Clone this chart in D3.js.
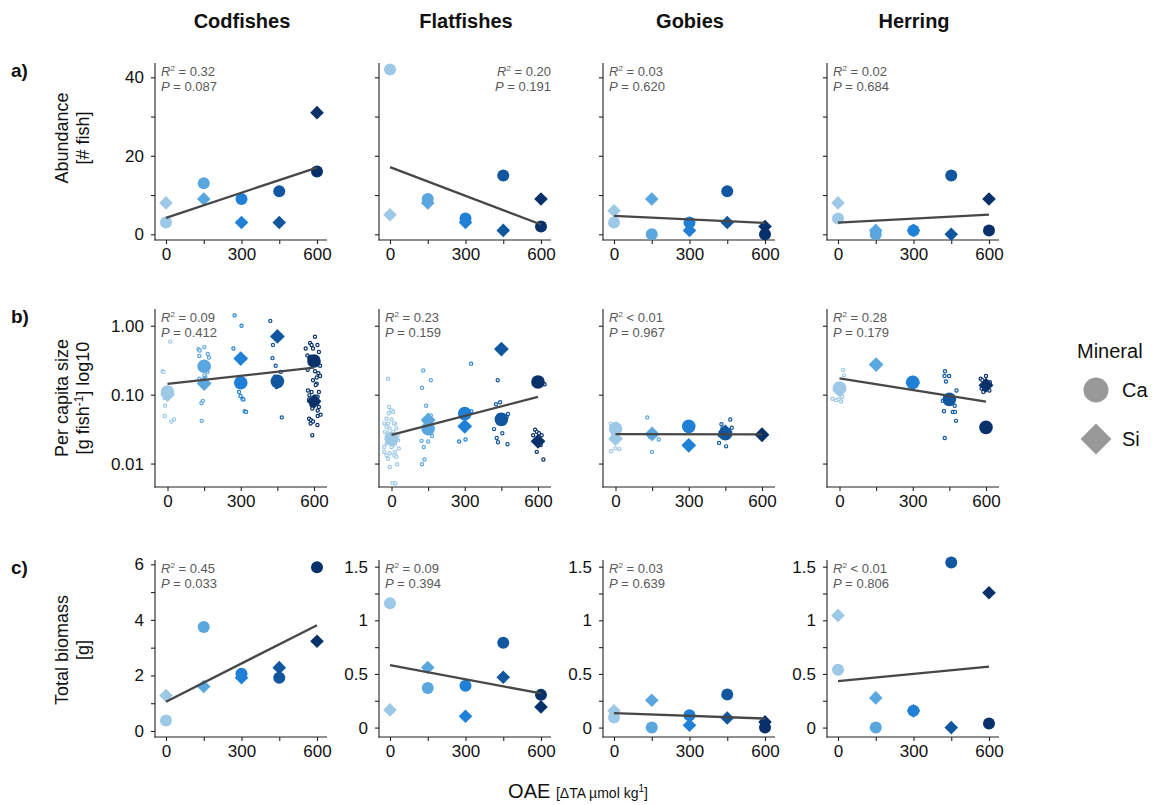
<!DOCTYPE html>
<html>
<head>
<meta charset="utf-8">
<script src="https://cdn.jsdelivr.net/npm/d3@7"></script>
<style>
  body { margin: 0; background: #fff; }
  text { font-family: "Liberation Sans", Arial, sans-serif; }
</style>
</head>
<body>
<script>
// Chart data
var species = ["Codfishes", "Flatfishes", "Gobies", "Herring"];
var levels = [0, 150, 300, 450, 600];
var levelColors = ["#9dc9e7", "#5aa6de", "#1f80d6", "#1157a0", "#08306b"];
var minerals = ["Ca", "Si"];

// a) abundance [# fish], one value per level
var abundanceCa = [[3, 13, 9, 11, 16], [42, 9, 4, 15, 2], [3, 0, 3, 11, 0], [4, 0, 1, 15, 1]];
var abundanceSi = [[8, 9, 3, 3, 31], [5, 8, 3, 1, 9], [6, 9, 1, 3, 2], [8, 1, 1, 0, 9]];

// b) mean per capita size [g], null = no fish caught
var sizeCa = [[0.109, 0.258, 0.149, 0.156, 0.308], [0.023, 0.032, 0.053, 0.0438, 0.153],
              [0.032, null, 0.0347, 0.0271, null], [0.125, null, 0.151, 0.0855, 0.0335]];
var sizeSi = [[0.100, 0.145, 0.334, 0.70, 0.080], [0.0224, 0.043, 0.0347, 0.458, 0.021],
              [0.023, 0.0269, 0.0184, 0.0287, 0.0262], [0.117, 0.273, 0.148, null, 0.137]];

// b) single fish: [level, jitter, log10 size]
var fishCod = [
  [0,11,-0.23],[0,-20,-0.66],[0,-16,-0.67],[0,-12,-1.05],[0,-10,-1.16],[0,-11,-1.31],[0,15,-1.39],[0,27,-1.36],[0,-7,-0.96],[0,7,-0.91],[0,0,-1.0],
  [150,-23,-0.34],[150,-18,-0.36],[150,1,-0.31],[150,-20,-0.44],[150,15,-0.41],[150,20,-0.46],[150,5,-0.74],[150,-1,-0.78],[150,-11,-1.12],[150,-5,-1.09],[150,-10,-1.38],
  [150,-7,-0.59],[150,7,-0.55],[150,-14,-0.62],[150,10,-0.81],[150,-10,-0.85],[150,1,-0.72],[150,14,-0.67],[150,-20,-0.77],[150,4,-0.89],[150,-4,-0.64],[150,18,-0.60],
  [300,-25,0.15],[300,3,0.0],[300,-30,-0.33],[300,-7,-0.96],[300,-1,-1.02],[300,7,-1.06],[300,11,-1.07],[300,16,-1.24],[300,22,-1.25],[300,0,-0.48],[300,-7,-0.82],[300,10,-0.79],
  [450,-29,0.07],[450,-18,-0.28],[450,-20,-0.47],[450,-7,-0.58],[450,18,-1.33],[450,14,-0.67],[450,0,-0.16],[450,-7,-0.8],[450,7,-0.82],[450,3,-0.86],[450,-10,-0.74],[450,10,-0.14],[450,-3,-0.89],[450,4,-0.78],
  [600,4,-0.16],[600,-16,-0.25],[600,-10,-0.28],[600,14,-0.28],[600,-34,-0.33],[600,-4,-0.33],[600,20,-0.38],[600,-27,-0.43],[600,-19,-0.47],[600,15,-0.52],[600,25,-0.58],[600,18,-0.69],
  [600,25,-0.73],[600,11,-0.75],[600,-4,-0.79],[600,11,-0.84],[600,7,-0.86],[600,20,-0.96],[600,-25,-0.94],[600,-10,-0.96],[600,-19,-1.01],[600,15,-1.03],[600,-20,-1.07],[600,7,-1.1],
  [600,-10,-1.15],[600,20,-1.18],[600,15,-1.23],[600,27,-1.29],[600,15,-1.31],[600,-20,-1.35],[600,-12,-1.37],[600,-4,-1.39],[600,-14,-1.42],[600,14,-1.44],[600,-7,-1.59],[600,-26,-0.64],
  [600,0,-0.51],[600,-10,-0.55],[600,10,-0.48],[600,-14,-0.45],[600,7,-0.57],[600,-3,-1.08],[600,7,-1.03],[600,-10,-1.13],[600,14,-1.12],[600,-7,-1.2],[600,4,-0.66]
];
var fishFlat = [
  [0,-14,-0.77],[0,-10,-1.18],[0,0,-1.23],[0,7,-1.25],[0,-11,-1.27],[0,-20,-1.35],[0,0,-1.36],[0,14,-1.42],[0,-30,-1.42],[0,-14,-1.42],[0,10,-1.42],[0,-20,-1.47],
  [0,-7,-1.49],[0,20,-1.49],[0,-27,-1.54],[0,-7,-1.59],[0,14,-1.64],[0,27,-1.66],[0,-20,-1.71],[0,7,-1.73],[0,30,-1.78],[0,-30,-1.83],[0,-7,-1.85],[0,11,-1.88],
  [0,-20,-1.88],[0,20,-1.90],[0,-14,-1.93],[0,-7,-2.05],[0,23,-2.01],[0,3,-2.28],[0,16,-2.29],[0,-14,-1.69],[0,0,-1.76],[0,-30,-1.76],[0,14,-1.83],[0,-20,-1.61],
  [0,7,-1.54],[0,25,-1.59],[0,0,-1.64],[0,-7,-1.61],[0,7,-1.66],[0,-3,-1.69],[0,3,-1.59],[0,-11,-1.65],[0,11,-1.63],[0,-16,-1.56],[0,14,-1.71],
  [150,-20,-0.65],[150,-25,-0.90],[150,11,-0.79],[150,-8,-1.16],[150,-27,-1.67],[150,0,-1.68],[150,-18,-1.76],[150,-15,-1.94],[150,-25,-2.01],[150,16,-1.60],[150,7,-1.47],
  [150,-14,-1.39],[150,16,-1.37],[150,-3,-1.54],[150,11,-1.30],[150,-7,-1.49],[150,3,-1.34],
  [300,26,-0.55],[300,27,-1.24],[300,-23,-1.68],[300,3,-1.65],[300,-3,-1.27],[300,7,-1.44],[300,-11,-1.48],
  [450,-15,-0.79],[450,-22,-1.14],[450,-5,-1.11],[450,-30,-1.50],[450,-19,-1.63],[450,-14,-1.69],[450,4,-1.56],[450,25,-1.72],[450,27,-1.28],[450,22,-1.32],[450,14,-1.39],
  [450,0,-1.35],[450,-10,-1.30],[450,8,-1.37],[450,-3,-1.42],[450,11,-1.31],
  [600,-12,-1.51],[600,-5,-1.54],[600,4,-1.56],[600,-20,-1.59],[600,15,-1.59],[600,11,-1.73],[600,-5,-1.83],[600,22,-1.94],[600,27,-0.85],[600,0,-0.81],[600,-3,-1.69]
];
var fishGoby = [
  [0,-20,-1.42],[0,3,-1.42],[0,-18,-1.82],[0,0,-1.78],[0,16,-1.79],[0,-7,-1.49],[0,7,-1.47],[0,-10,-1.59],[0,4,-1.64],
  [150,-20,-1.33],[150,-1,-1.83],[150,27,-1.65],[150,14,-1.59],[150,-7,-1.54],[150,4,-1.56],[150,-10,-1.61],[150,10,-1.55],[150,0,-1.60],
  [300,0,-1.46],[300,-7,-1.48],[300,4,-1.72],[300,-3,-1.74],
  [450,-16,-1.43],[450,20,-1.36],[450,26,-1.48],[450,-26,-1.70],[450,3,-1.75],[450,-12,-1.49],[450,11,-1.52],[450,-23,-1.59],[450,18,-1.59],
  [450,-3,-1.54],[450,4,-1.56],[450,-10,-1.58],[450,1,-1.61],[450,-7,-1.52],
  [600,-4,-1.56],[600,5,-1.60]
];
var fishHerring = [
  [0,15,-0.64],[0,18,-0.72],[0,-29,-1.06],[0,-14,-1.08],[0,-3,-1.07],[0,7,-1.10],[0,11,-1.03],[0,4,-0.91],[0,-7,-0.96],[0,1,-0.86],[0,-10,-0.94],[0,8,-0.98],
  [150,0,-0.57],
  [300,-3,-0.82],[300,4,-0.80],
  [450,-18,-0.66],[450,-20,-0.73],[450,-1,-0.73],[450,-14,-0.81],[450,29,-0.94],[450,-27,-1.09],[450,-22,-1.24],[450,22,-1.16],[450,14,-1.25],[450,23,-1.25],
  [450,27,-1.38],[450,-19,-1.63],[450,-8,-1.01],[450,10,-1.06],[450,3,-1.10],
  [600,-22,-0.77],[600,0,-0.73],[600,-15,-0.79],[600,16,-0.82],[600,-11,-0.96],[600,14,-0.94],[600,-18,-0.91],[600,3,-0.89],[600,0,-1.47],[600,-4,-0.85]
];
var fishBySpecies = [fishCod, fishFlat, fishGoby, fishHerring];

// c) total biomass [g]
var biomassCa = [[0.38, 3.74, 2.06, 1.92, 5.89], [1.16, 0.37, 0.39, 0.79, 0.305], [0.093, 0, 0.115, 0.308, 0], [0.539, 0, 0.156, 1.54, 0.037]];
var biomassSi = [[1.28, 1.6, 1.92, 2.28, 3.23], [0.165, 0.56, 0.106, 0.47, 0.193], [0.156, 0.255, 0.022, 0.09, 0.053], [1.046, 0.277, 0.156, 0, 1.257]];

// regression labels
var statsR2 = [["= 0.32", "= 0.20", "= 0.03", "= 0.02"], ["= 0.09", "= 0.23", "< 0.01", "= 0.28"], ["= 0.45", "= 0.09", "= 0.03", "< 0.01"]];
var statsP = [["0.087", "0.191", "0.620", "0.684"], ["0.412", "0.159", "0.967", "0.179"], ["0.033", "0.394", "0.639", "0.806"]];

var xTicks = [0, 150, 300, 450, 600];

// Layout
var svgWidth = 1158, svgHeight = 805;
var panelLefts = [155, 379, 603, 827];
var panelWidth = 172;
var rowTops = [63, 309, 560];
var rowBottoms = [240, 487, 737];

var svg = d3.select("body").append("svg")
  .attr("width", svgWidth)
  .attr("height", svgHeight);

function fitLine(xs, ys) {
  var mx = d3.mean(xs), my = d3.mean(ys);
  var sxy = d3.sum(xs, function(x, i) { return (x - mx) * (ys[i] - my); });
  var sxx = d3.sum(xs, function(x) { return (x - mx) * (x - mx); });
  var b = sxy / sxx;
  return function(x) { return my + b * (x - mx); };
}

function diamondPath(cx, cy, h) {
  return "M" + cx + "," + (cy - h) + "L" + (cx + h) + "," + cy + "L" + cx + "," + (cy + h) + "L" + (cx - h) + "," + cy + "Z";
}

function drawPanel(row, col) {
  var left = panelLefts[col], top = rowTops[row], bottom = rowBottoms[row];
  var g = svg.append("g");

  var x = d3.scaleLinear().domain([0, 600])
    .range(row == 1 ? [left + 12.5, left + 159] : [left + 11, left + 162]);

  var y, yTicks, yLabels;
  if (row == 0) {
    y = d3.scaleLinear().domain([-1.45, 43.65]).range([bottom, top]);
    yTicks = [0, 10, 20, 30, 40]; yLabels = [0, 20, 40];
  } else if (row == 1) {
    y = d3.scaleLog().domain([0.00457, 1.75]).range([bottom, top]);
    yTicks = [0.01, 0.1, 1]; yLabels = [0.01, 0.1, 1];
  } else if (col == 0) {
    y = d3.scaleLinear().domain([-0.216, 6.155]).range([bottom, top]);
    yTicks = [0, 1, 2, 3, 4, 5, 6]; yLabels = [0, 2, 4, 6];
  } else {
    y = d3.scaleLinear().domain([-0.0878, 1.5626]).range([bottom, top]);
    yTicks = [0, 0.25, 0.5, 0.75, 1, 1.25, 1.5]; yLabels = [0, 0.5, 1, 1.5];
  }
  var showYLabels = (col == 0 || row == 2);

  // y axis
  var yAxis = g.append("g").attr("transform", "translate(" + left + ",0)")
    .call(d3.axisLeft(y).tickValues(yTicks).tickSize(4).tickPadding(7)
      .tickFormat(function(d) {
        if (!showYLabels || yLabels.indexOf(d) < 0) return "";
        if (row == 1) return d3.format(".2f")(d);
        return String(d);
      }));
  // x axis
  var xAxis = g.append("g").attr("transform", "translate(0," + bottom + ")")
    .call(d3.axisBottom(x).tickValues(xTicks).tickSize(4).tickPadding(4)
      .tickFormat(function(d) { return d % 300 == 0 ? d : ""; }));
  [yAxis, xAxis].forEach(function(ax) {
    ax.select(".domain").remove();
    ax.selectAll("line").attr("stroke", "#222").attr("stroke-width", 1.1);
    ax.selectAll("text").attr("fill", "#111").style("font-size", "17px");
  });
  g.append("line").attr("x1", left).attr("x2", left).attr("y1", top).attr("y2", bottom + 0.5)
    .attr("stroke", "#222").attr("stroke-width", 1.1);
  g.append("line").attr("x1", left - 0.5).attr("x2", left + panelWidth).attr("y1", bottom).attr("y2", bottom)
    .attr("stroke", "#222").attr("stroke-width", 1.1);

  // data for this panel
  var ca, si;
  if (row == 0) { ca = abundanceCa[col]; si = abundanceSi[col]; }
  else if (row == 1) { ca = sizeCa[col]; si = sizeSi[col]; }
  else { ca = biomassCa[col]; si = biomassSi[col]; }

  var points = [];
  levels.forEach(function(lv, i) {
    if (ca[i] != null) points.push({ level: lv, li: i, value: ca[i], mineral: "Ca" });
  });
  levels.forEach(function(lv, i) {
    if (si[i] != null) points.push({ level: lv, li: i, value: si[i], mineral: "Si" });
  });

  // single fish in the size row
  if (row == 1) {
    g.selectAll("circle.fish").data(fishBySpecies[col]).enter().append("circle")
      .attr("class", "fish")
      .attr("cx", function(d) { return x(d[0] + d[1]); })
      .attr("cy", function(d) { return y(Math.pow(10, d[2])); })
      .attr("r", 1.6)
      .attr("fill", "#fff")
      .attr("stroke", function(d) { return levelColors[levels.indexOf(d[0])]; })
      .attr("stroke-width", 1.2);
  }

  var rCirc = row == 1 ? 6.8 : 6;
  var hDiam = row == 1 ? 7.4 : 6.8;
  g.selectAll("circle.ca").data(points.filter(function(d) { return d.mineral == "Ca"; }))
    .enter().append("circle")
    .attr("cx", function(d) { return x(d.level); })
    .attr("cy", function(d) { return y(d.value); })
    .attr("r", rCirc)
    .attr("fill", function(d) { return levelColors[d.li]; });
  g.selectAll("path.si").data(points.filter(function(d) { return d.mineral == "Si"; }))
    .enter().append("path")
    .attr("d", function(d) { return diamondPath(x(d.level), y(d.value), hDiam); })
    .attr("fill", function(d) { return levelColors[d.li]; });

  // regression line
  var xs = points.map(function(d) { return d.level; });
  var ys = points.map(function(d) { return row == 1 ? Math.log10(d.value) : d.value; });
  var f = fitLine(xs, ys);
  var yv = function(v) { return row == 1 ? y(Math.pow(10, v)) : y(v); };
  g.append("line")
    .attr("x1", x(0)).attr("y1", yv(f(0)))
    .attr("x2", x(600)).attr("y2", yv(f(600)))
    .attr("stroke", "#474747").attr("stroke-width", 2.3);

  // stats label
  var rightAlign = (row == 0 && col == 1);
  var tx = rightAlign ? left + panelWidth : left + 6;
  var anchor = rightAlign ? "end" : "start";
  var t1 = g.append("text").attr("x", tx).attr("y", top + 12.5)
    .attr("text-anchor", anchor).attr("fill", "#595959").style("font-size", "13px");
  t1.append("tspan").style("font-style", "italic").text("R");
  t1.append("tspan").attr("dy", -5).style("font-size", "8px").text("2");
  t1.append("tspan").attr("dy", 5).text(" " + statsR2[row][col]);
  var t2 = g.append("text").attr("x", tx).attr("y", top + 28)
    .attr("text-anchor", anchor).attr("fill", "#595959").style("font-size", "13px");
  t2.append("tspan").style("font-style", "italic").text("P");
  t2.append("tspan").text(" = " + statsP[row][col]);
}

for (var r = 0; r < 3; r++) {
  for (var c = 0; c < 4; c++) drawPanel(r, c);
}

// facet titles
svg.selectAll("text.facet").data(species).enter().append("text")
  .attr("x", function(d, i) { return panelLefts[i] + panelWidth / 2 + 1; })
  .attr("y", 28)
  .attr("text-anchor", "middle")
  .style("font-size", "20px").style("font-weight", "bold")
  .attr("fill", "#111")
  .text(function(d) { return d; });

// row tags
["a)", "b)", "c)"].forEach(function(t, i) {
  svg.append("text").attr("x", 11).attr("y", rowTops[i] + 14)
    .style("font-size", "19px").style("font-weight", "bold").attr("fill", "#111").text(t);
});

// y axis titles
var yTitles = [["Abundance", "[# fish]"], ["Per capita size", null], ["Total biomass", "[g]"]];
var yTitleCenters = [138, 398, 650];
yTitles.forEach(function(lines, i) {
  var cy = yTitleCenters[i];
  var t1 = svg.append("text").attr("transform", "translate(68," + cy + ") rotate(-90)")
    .attr("text-anchor", "middle").style("font-size", "18px").attr("fill", "#111").text(lines[0]);
  var t2 = svg.append("text").attr("transform", "translate(89," + cy + ") rotate(-90)")
    .attr("text-anchor", "middle").style("font-size", "18px").attr("fill", "#111");
  if (lines[1]) {
    t2.text(lines[1]);
  } else {
    t2.append("tspan").text("[g fish");
    t2.append("tspan").attr("dy", -6).style("font-size", "12px").text("-1");
    t2.append("tspan").attr("dy", 6).text("] log10");
  }
});

// x axis title
var xt = svg.append("text").attr("x", 578).attr("y", 798).attr("text-anchor", "middle").attr("fill", "#111");
xt.append("tspan").style("font-size", "20px").text("OAE ");
xt.append("tspan").style("font-size", "14px").text("[\u0394TA \u00b5mol kg");
xt.append("tspan").attr("dy", -6).style("font-size", "10px").text("1");
xt.append("tspan").attr("dy", 6).style("font-size", "14px").text("]");

// legend
var lg = svg.append("g");
lg.append("text").attr("x", 1077).attr("y", 358).style("font-size", "20px").attr("fill", "#111").text("Mineral");
lg.append("circle").attr("cx", 1096).attr("cy", 390).attr("r", 12.5).attr("fill", "#999");
lg.append("path").attr("d", diamondPath(1096, 439, 15.5)).attr("fill", "#999");
lg.append("text").attr("x", 1122).attr("y", 397).style("font-size", "20px").attr("fill", "#111").text(minerals[0]);
lg.append("text").attr("x", 1122).attr("y", 446).style("font-size", "20px").attr("fill", "#111").text(minerals[1]);
</script>
</body>
</html>
